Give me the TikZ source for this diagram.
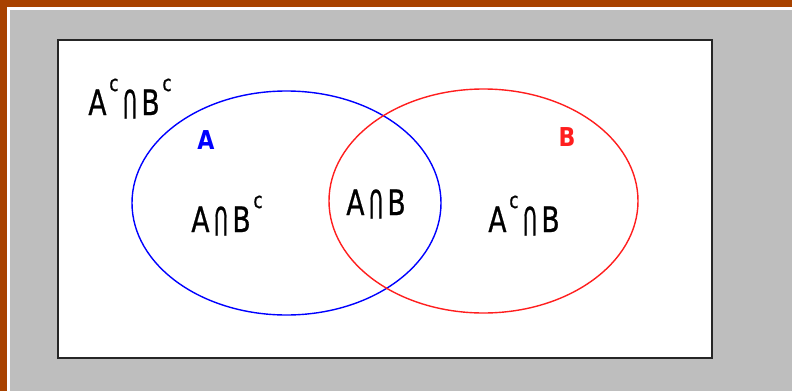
\documentclass[tikz,border=0pt]{standalone}
\usepackage{fontspec}
\setmainfont{DejaVu Sans}
\newfontfamily\lblfont[FakeBold=0.8]{DejaVu Sans}
\usetikzlibrary{shapes.geometric}
\definecolor{bgorange}{RGB}{168,66,0}
\definecolor{panelgray}{RGB}{190,190,190}
\definecolor{setred}{RGB}{255,30,30}
\newcommand{\compl}{\raisebox{24pt}{\fontsize{22}{22}\selectfont\,c}}
\newcommand{\capsym}{\,\raisebox{-3pt}{\scalebox{0.72}[1.12]{\rotatebox[origin=c]{180}{U}}}\,}
\tikzset{
  region/.style={font=\lblfont\fontsize{35}{35}\selectfont, xscale=0.76, anchor=base, inner sep=0pt},
  setname/.style={font=\bfseries\fontsize{26}{26}\selectfont, xscale=0.85, anchor=base, inner sep=0pt},
  venn/.style={ellipse, draw, line width=1.4pt, inner sep=0pt, minimum width=309pt, minimum height=224pt}
}
\begin{document}
\begin{tikzpicture}[x=1pt,y=-1pt]
  \useasboundingbox (0,0) rectangle (792,391);
  \fill[bgorange] (0,0) rectangle (792,391);
  \fill[white] (7,7) rectangle (792,391);
  \fill[panelgray] (10,10) rectangle (792,391);
  \draw[black!85, line width=2pt, fill=white] (58,40) rectangle (712,358);
  \node[venn, blue] (setA) at (286.5,203) {};
  \node[venn, setred] (setB) at (483.5,201) {};
  \node[region] (none) at (130,115) {A\compl\capsym B\compl};
  \node[setname, blue] (nameA) at (206,149) {A};
  \node[setname, setred] (nameB) at (567,146) {B};
  \node[region] (onlyA) at (227,232) {A\capsym B\compl};
  \node[region] (both) at (376,215) {A\capsym B};
  \node[region] (onlyB) at (524,232) {A\compl\capsym B};
\end{tikzpicture}
\end{document}
